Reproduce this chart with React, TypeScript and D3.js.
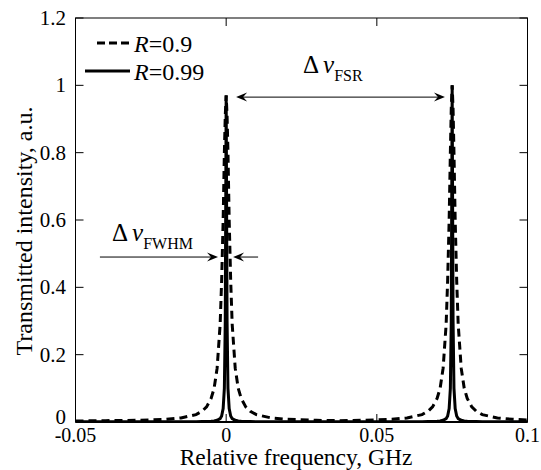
import React from 'react'
import * as d3 from 'd3'

// relative frequency, GHz (shared grid, finer around both peaks)
const freq = [
  -0.05, -0.04, -0.03, -0.02, -0.015, -0.01, -0.008, -0.0065, -0.005, -0.004, -0.003, -0.002,
  -0.0015, -0.001, -0.0006, -0.0003, 0, 0.0003, 0.0006, 0.001, 0.0015, 0.002, 0.003, 0.004,
  0.005, 0.0065, 0.008, 0.01, 0.015, 0.02, 0.03, 0.0375, 0.045, 0.055, 0.06, 0.065, 0.067,
  0.0685, 0.07, 0.071, 0.072, 0.073, 0.0735, 0.074, 0.0744, 0.0747, 0.075, 0.0753, 0.0756,
  0.076, 0.0765, 0.077, 0.078, 0.079, 0.08, 0.0815, 0.083, 0.085, 0.09, 0.095, 0.1,
]

// R = 0.9 (dashed)
const r90 = [
  0.003, 0.004, 0.005, 0.008, 0.012, 0.022, 0.032, 0.045, 0.07, 0.1, 0.16, 0.29,
  0.42, 0.6, 0.8, 0.91, 0.97, 0.91, 0.8, 0.6, 0.42, 0.29, 0.16, 0.1,
  0.07, 0.045, 0.032, 0.022, 0.012, 0.008, 0.005, 0.004, 0.005, 0.008, 0.012, 0.022, 0.032,
  0.045, 0.07, 0.1, 0.16, 0.29, 0.42, 0.6, 0.8, 0.93, 1.0, 0.93, 0.8,
  0.6, 0.42, 0.29, 0.16, 0.1, 0.07, 0.045, 0.032, 0.022, 0.012, 0.008, 0.006,
]

// R = 0.99 (solid)
const r99 = [
  0.0005, 0.0005, 0.0005, 0.0006, 0.0007, 0.001, 0.0012, 0.0015, 0.002, 0.003, 0.005, 0.01,
  0.018, 0.04, 0.1, 0.3, 0.97, 0.3, 0.1, 0.04, 0.018, 0.01, 0.005, 0.003,
  0.002, 0.0015, 0.0012, 0.001, 0.0007, 0.0006, 0.0005, 0.0005, 0.0005, 0.0006, 0.0007, 0.001, 0.0012,
  0.0015, 0.002, 0.003, 0.005, 0.01, 0.018, 0.04, 0.1, 0.3, 1.0, 0.3, 0.1,
  0.04, 0.018, 0.01, 0.005, 0.003, 0.002, 0.0015, 0.0012, 0.001, 0.0007, 0.0006, 0.0005,
]

const xTicks = [-0.05, 0, 0.05, 0.1]
const xTickLabels = ['-0.05', '0', '0.05', '0.1']
const yTicks = [0, 0.2, 0.4, 0.6, 0.8, 1, 1.2]
const yTickLabels = ['0', '0.2', '0.4', '0.6', '0.8', '1', '1.2']

const W = 541
const H = 470
const margin = { left: 75.5, right: 13.5, top: 18, bottom: 48 }
const tf = { fontFamily: 'Liberation Serif' }

const Arrow = ({ x, y, dir }: { x: number; y: number; dir: 1 | -1 }) => {
  // tip at (x, y), pointing right if dir=1
  const L = 11, w = 4.5, notch = 7
  const d = `M${x},${y} L${x - dir * L},${y - w} L${x - dir * notch},${y} L${x - dir * L},${y + w} Z`
  return <path d={d} fill="#000" />
}

export default function App () {
  const x = d3.scaleLinear().domain([-0.05, 0.1]).range([margin.left, W - margin.right])
  const y = d3.scaleLinear().domain([0, 1.2]).range([H - margin.bottom, margin.top])
  const line = d3.line<number>()
    .x((_, i) => x(freq[i]))
    .y(d => y(d))

  const x0 = x.range()[0], x1 = x.range()[1]
  const y0 = y.range()[0], y1 = y.range()[1]
  const tick = 8

  // annotation positions in data units
  const fsrY = y(0.965)
  const fsrA = x(0.0033), fsrB = x(0.0726)
  const fwY = y(0.49)

  return (
    <svg width={W} height={H} style={{ position: 'absolute', left: 0, top: 0, background: '#fff' }}>
      <defs>
        <clipPath id="plot"><rect x={x0} y={y1 - 2} width={x1 - x0} height={y0 - y1 + 2} /></clipPath>
      </defs>

      <g clipPath="url(#plot)">
        <path d={line(r90) || ''} fill="none" stroke="#000" strokeWidth={3} strokeDasharray="8,5" />
        <path d={line(r99) || ''} fill="none" stroke="#000" strokeWidth={3} />
      </g>

      {/* frame */}
      <rect x={x0} y={y1} width={x1 - x0} height={y0 - y1} fill="none" stroke="#000" strokeWidth={1} />
      <line x1={x0} x2={x1} y1={y0} y2={y0} stroke="#000" strokeWidth={2} />

      {xTicks.map((t, i) => (
        <g key={'x' + i}>
          <line x1={x(t)} x2={x(t)} y1={y0} y2={y0 - tick} stroke="#000" />
          <line x1={x(t)} x2={x(t)} y1={y1} y2={y1 + tick} stroke="#000" />
          <text x={x(t)} y={442} textAnchor="middle" fontSize={20} style={tf}>{xTickLabels[i]}</text>
        </g>
      ))}
      {yTicks.map((t, i) => (
        <g key={'y' + i}>
          <line x1={x0} x2={x0 + tick} y1={y(t)} y2={y(t)} stroke="#000" />
          <line x1={x1} x2={x1 - tick} y1={y(t)} y2={y(t)} stroke="#000" />
          <text x={66} y={i === 0 ? y(t) - 5 : y(t)} dy="0.33em" textAnchor="end" fontSize={21} style={tf}>{yTickLabels[i]}</text>
        </g>
      ))}

      <text x={296} y={465} textAnchor="middle" fontSize={23.5} style={tf}>Relative frequency, GHz</text>
      <text transform="translate(32, 231) rotate(-90)" textAnchor="middle" fontSize={24} style={tf}>
        Transmitted intensity, a.u.
      </text>

      {/* legend */}
      <line x1={97} x2={129} y1={43} y2={43} stroke="#000" strokeWidth={3} strokeDasharray="8,4" />
      <text x={134} y={52} fontSize={24} style={tf}><tspan fontStyle="italic">R</tspan>=0.9</text>
      <line x1={85} x2={130} y1={71} y2={71} stroke="#000" strokeWidth={3} />
      <text x={134} y={80} fontSize={24} style={tf}><tspan fontStyle="italic">R</tspan>=0.99</text>

      {/* FSR annotation */}
      <line x1={fsrA + 4} x2={fsrB - 4} y1={fsrY} y2={fsrY} stroke="#000" strokeWidth={1} />
      <Arrow x={fsrA} y={fsrY} dir={-1} />
      <Arrow x={fsrB} y={fsrY} dir={1} />
      <text x={303} y={73} fontSize={25} style={tf}>Δ<tspan dx={4} fontStyle="italic">ν</tspan>
        <tspan fontSize={16} dy={8}>FSR</tspan></text>

      {/* FWHM annotation */}
      <line x1={x(-0.0419)} x2={x(-0.0027) - 4} y1={fwY} y2={fwY} stroke="#000" strokeWidth={1} />
      <Arrow x={x(-0.0027)} y={fwY} dir={1} />
      <line x1={x(0.0023) + 4} x2={x(0.0106)} y1={fwY} y2={fwY} stroke="#000" strokeWidth={1} />
      <Arrow x={x(0.0023)} y={fwY} dir={-1} />
      <text x={112} y={241} fontSize={25} style={tf}>Δ<tspan dx={4} fontStyle="italic">ν</tspan>
        <tspan fontSize={16} dy={8}>FWHM</tspan></text>
    </svg>
  )
}
